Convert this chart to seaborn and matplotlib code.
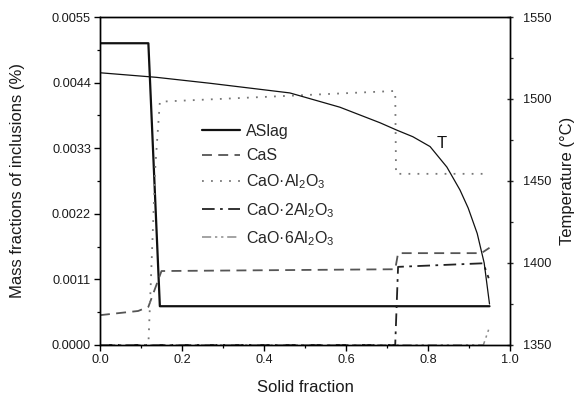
import numpy as np
import pandas as pd
import matplotlib
matplotlib.use("Agg")
import matplotlib.pyplot as plt
from matplotlib.ticker import MultipleLocator, FormatStrFormatter
import seaborn as sns

# Inclusion mass fractions (%) against solid fraction
aslag_x = [0.0, 0.118, 0.146, 0.950]
aslag_y = [0.00506, 0.00506, 0.00065, 0.00065]

cas_x = [0.0, 0.093, 0.118, 0.150, 0.720, 0.727, 0.930, 0.950]
cas_y = [0.00050, 0.00057, 0.00064, 0.00124, 0.00127, 0.00154, 0.00154, 0.00163]

ca1_x = [0.0, 0.118, 0.135, 0.146, 0.720, 0.722, 0.946]
ca1_y = [0.0, 0.0, 0.00300, 0.00408, 0.00426, 0.00287, 0.00287]

ca2_x = [0.0, 0.720, 0.727, 0.935, 0.948]
ca2_y = [0.0, 0.0, 0.00131, 0.00137, 0.00112]

ca6_x = [0.0, 0.935, 0.950]
ca6_y = [0.0, 0.0, 0.00030]

# Temperature (°C) against solid fraction
temp_x = [0.0, 0.138, 0.268, 0.463, 0.585, 0.683, 0.724, 0.763, 0.805,
          0.846, 0.878, 0.898, 0.920, 0.937, 0.950]
temp_y = [1516.0, 1513.2, 1509.6, 1503.7, 1495.0, 1485.5, 1481.0, 1477.0,
          1471.0, 1458.5, 1444.5, 1433.5, 1418.0, 1400.0, 1375.0]

series = [
    ("ASlag", aslag_x, aslag_y, "#111111", "-", 1.6),
    ("CaS", cas_x, cas_y, "#555555", (0, (5.5, 3.5)), 1.3),
    ("CaO·Al$_2$O$_3$", ca1_x, ca1_y, "#777777", (0, (1, 4)), 1.3),
    ("CaO·2Al$_2$O$_3$", ca2_x, ca2_y, "#222222", (0, (7, 3, 1.5, 3)), 1.3),
    ("CaO·6Al$_2$O$_3$", ca6_x, ca6_y, "#8a8a8a", (0, (6, 2.5, 1.5, 2.5, 1.5, 2.5)), 1.1),
]

sns.set_theme(style="ticks")
plt.rcParams["font.family"] = ["Liberation Sans", "DejaVu Sans"]
plt.rcParams["mathtext.fontset"] = "custom"
plt.rcParams["mathtext.rm"] = "Liberation Sans"
plt.rcParams["mathtext.it"] = "Liberation Sans:italic"
plt.rcParams["mathtext.bf"] = "Liberation Sans:bold"

fig = plt.figure(figsize=(5.77, 4.01), dpi=100)
ax = fig.add_axes([0.1733, 0.1397, 0.7106, 0.8179])

for name, xs, ys, col, ls, lw in series:
    df = pd.DataFrame({"Solid fraction": xs, "value": ys})
    sns.lineplot(data=df, x="Solid fraction", y="value", ax=ax, sort=False,
                 estimator=None, color=col, linestyle=ls, linewidth=lw,
                 label=name, legend=False)

ax.set_xlim(0, 1.0)
ax.set_ylim(0, 0.0055)
ax.xaxis.set_major_locator(MultipleLocator(0.2))
ax.xaxis.set_minor_locator(MultipleLocator(0.1))
ax.xaxis.set_major_formatter(FormatStrFormatter("%.1f"))
ax.yaxis.set_major_locator(MultipleLocator(0.0011))
ax.yaxis.set_minor_locator(MultipleLocator(0.00055))
ax.yaxis.set_major_formatter(FormatStrFormatter("%.4f"))
ax.tick_params(axis="both", which="major", direction="out", length=4,
               width=1, labelsize=9.2, color="black", labelcolor="#1a1a1a", pad=2.5)
ax.tick_params(axis="both", which="minor", direction="out", length=2.5,
               width=0.9, color="black")
ax.set_xlabel("Solid fraction", fontsize=12, color="#1a1a1a", labelpad=10)
ax.set_ylabel("Mass fractions of inclusions (%)", fontsize=12,
              color="#1a1a1a", labelpad=19)

ax2 = ax.twinx()
tdf = pd.DataFrame({"Solid fraction": temp_x, "T": temp_y})
sns.lineplot(data=tdf, x="Solid fraction", y="T", ax=ax2, sort=False,
             estimator=None, color="#111111", linewidth=0.9, legend=False)
ax2.set_ylim(1350, 1550)
ax2.yaxis.set_major_locator(MultipleLocator(50))
ax2.yaxis.set_minor_locator(MultipleLocator(25))
ax2.tick_params(axis="y", which="major", direction="inout", length=5,
                width=1, labelsize=9.2, labelcolor="#1a1a1a", pad=7)
ax2.tick_params(axis="y", which="minor", direction="out", length=2.5, width=0.9)
ax2.set_ylabel("Temperature (°C)", fontsize=12, color="#1a1a1a", labelpad=6)
ax2.text(0.833, 1473, "T", fontsize=12, ha="center", va="center", color="#111111")

for a in (ax, ax2):
    for sp in a.spines.values():
        sp.set_visible(True)
        sp.set_linewidth(1.0)
        sp.set_color("black")

handles, labels = ax.get_legend_handles_labels()
ax.legend(handles, labels, loc="upper left", bbox_to_anchor=(0.249, 0.674),
          frameon=False, fontsize=11.5, handlelength=2.4, handletextpad=0.37,
          labelspacing=0.59, borderpad=0, borderaxespad=0)

fig.savefig("out.png", dpi=100)
